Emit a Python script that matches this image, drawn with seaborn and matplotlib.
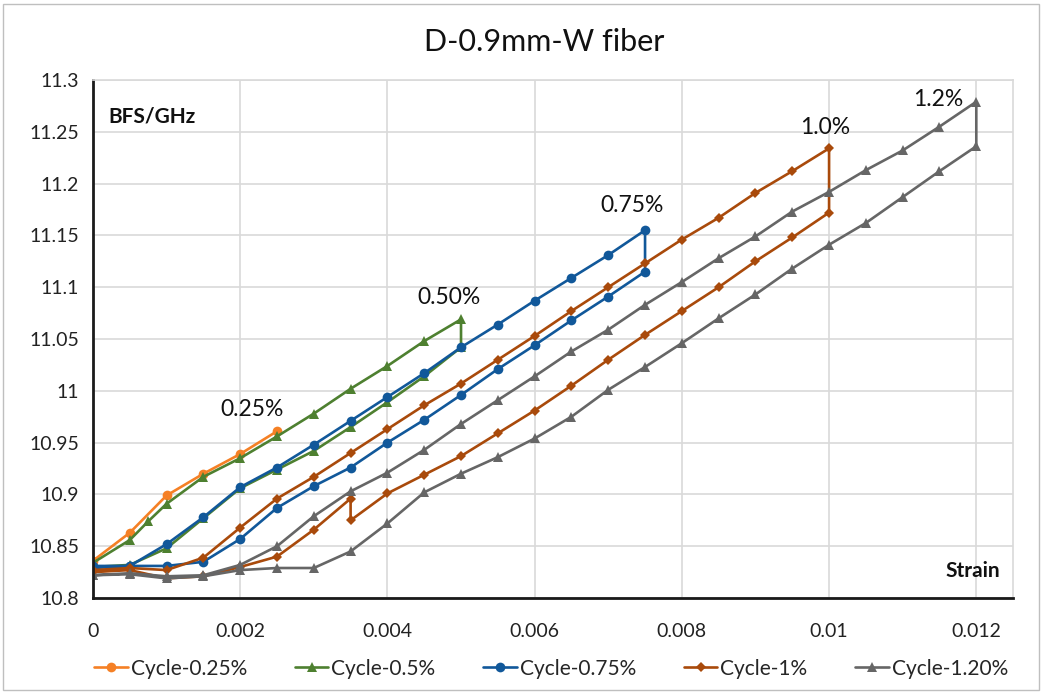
# BFS vs strain for the D-0.9mm-W fiber, loading/unloading cycles

import matplotlib.pyplot as plt
import numpy as np
import pandas as pd
import seaborn as sns
from matplotlib.patches import Rectangle

# strain points and BFS (GHz), each cycle drawn as one path
strain_025 = [0, 0.0005, 0.001, 0.0015, 0.002, 0.0025]
bfs_025 = [10.836, 10.863, 10.899, 10.920, 10.939, 10.961]

strain_05 = [0, 0.0005, 0.00075, 0.001, 0.0015, 0.002, 0.0025, 0.003, 0.0035, 0.004, 0.0045, 0.005,
             0.005, 0.0045, 0.004, 0.0035, 0.003, 0.0025, 0.002, 0.0015, 0.001, 0.0005, 0]
bfs_05 = [10.834, 10.856, 10.874, 10.891, 10.917, 10.935, 10.956, 10.978, 11.002, 11.024, 11.048, 11.069,
          11.042, 11.014, 10.989, 10.965, 10.942, 10.924, 10.906, 10.877, 10.848, 10.832, 10.830]

strain_075 = [0, 0.0005, 0.001, 0.0015, 0.002, 0.0025, 0.003, 0.0035, 0.004, 0.0045, 0.005, 0.0055,
              0.006, 0.0065, 0.007, 0.0075,
              0.0075, 0.007, 0.0065, 0.006, 0.0055, 0.005, 0.0045, 0.004, 0.0035, 0.003, 0.0025,
              0.002, 0.0015, 0.001, 0.0005, 0]
bfs_075 = [10.831, 10.831, 10.852, 10.878, 10.907, 10.926, 10.948, 10.971, 10.994, 11.017, 11.042, 11.064,
           11.087, 11.109, 11.131, 11.155,
           11.115, 11.091, 11.068, 11.044, 11.021, 10.996, 10.972, 10.950, 10.926, 10.908, 10.887,
           10.857, 10.835, 10.831, 10.831, 10.829]

strain_1 = [0, 0.0005, 0.001, 0.0015, 0.002, 0.0025, 0.003, 0.0035, 0.004, 0.0045, 0.005, 0.0055,
            0.006, 0.0065, 0.007, 0.0075, 0.008, 0.0085, 0.009, 0.0095, 0.01,
            0.01, 0.0095, 0.009, 0.0085, 0.008, 0.0075, 0.007, 0.0065, 0.006, 0.0055, 0.005, 0.0045,
            0.004, 0.0035, 0.0035, 0.003, 0.0025, 0.002, 0.0015, 0.001, 0.0005, 0]
bfs_1 = [10.827, 10.829, 10.827, 10.839, 10.868, 10.896, 10.917, 10.940, 10.963, 10.986, 11.007, 11.030,
         11.053, 11.077, 11.100, 11.123, 11.146, 11.167, 11.191, 11.212, 11.234,
         11.172, 11.148, 11.125, 11.100, 11.077, 11.054, 11.030, 11.005, 10.981, 10.959, 10.937, 10.919,
         10.901, 10.875, 10.896, 10.866, 10.840, 10.830, 10.821, 10.819, 10.827, 10.825]

strain_12 = [0, 0.0005, 0.001, 0.0015, 0.002, 0.0025, 0.003, 0.0035, 0.004, 0.0045, 0.005, 0.0055,
             0.006, 0.0065, 0.007, 0.0075, 0.008, 0.0085, 0.009, 0.0095, 0.01, 0.0105, 0.011, 0.0115, 0.012,
             0.012, 0.0115, 0.011, 0.0105, 0.01, 0.0095, 0.009, 0.0085, 0.008, 0.0075, 0.007, 0.0065,
             0.006, 0.0055, 0.005, 0.0045, 0.004, 0.0035, 0.003, 0.0025, 0.002, 0.0015, 0.001, 0.0005, 0]
bfs_12 = [10.822, 10.824, 10.821, 10.822, 10.832, 10.850, 10.879, 10.903, 10.921, 10.943, 10.968, 10.991,
          11.014, 11.038, 11.059, 11.083, 11.105, 11.128, 11.149, 11.173, 11.192, 11.213, 11.232, 11.255, 11.279,
          11.236, 11.212, 11.187, 11.162, 11.141, 11.118, 11.093, 11.070, 11.046, 11.023, 11.001, 10.975,
          10.954, 10.936, 10.920, 10.902, 10.872, 10.845, 10.829, 10.829, 10.827, 10.821, 10.819, 10.823, 10.822]

cycles = ['Cycle-0.25%', 'Cycle-0.5%', 'Cycle-0.75%', 'Cycle-1%', 'Cycle-1.20%']
strains = [strain_025, strain_05, strain_075, strain_1, strain_12]
bfs_all = [bfs_025, bfs_05, bfs_075, bfs_1, bfs_12]
colors = ['#F58025', '#4E8030', '#11589A', '#A94A0B', '#666666']
markers = ['o', '^', 'o', 'D', '^']
msizes = [7, 7, 7, 5, 7]

# peak labels
peak_labels = ['0.25%', '0.50%', '0.75%', '1.0%', '1.2%']
peak_x = [0.00216, 0.00484, 0.00733, 0.00995, 0.01148]
peak_y = [10.9815, 11.0896, 11.1784, 11.2546, 11.2807]

sns.set_style('white')
plt.rcParams['font.family'] = ['Lato', 'DejaVu Sans']

fig = plt.figure(figsize=(10.54, 6.93), dpi=100)
ax = fig.add_axes([0.0882, 0.137, 0.873, 0.7476])

for name, sx, sy, c, m, ms in zip(cycles, strains, bfs_all, colors, markers, msizes):
    df = pd.DataFrame({'strain': sx, 'bfs': sy, 'order': np.arange(len(sx))})
    sns.lineplot(data=df, x='strain', y='bfs', ax=ax, sort=False, estimator=None,
                 color=c, marker=m, markersize=ms, markeredgewidth=0, linewidth=1.9, label=name)

ax.set_xlim(0, 0.0125)
ax.set_ylim(10.8, 11.3)
ax.set_xticks(np.arange(0, 0.0121, 0.002))
ax.set_xticklabels(['0', '0.002', '0.004', '0.006', '0.008', '0.01', '0.012'])
ax.set_yticks(np.arange(10.8, 11.301, 0.05))
ax.set_yticklabels(['10.8', '10.85', '10.9', '10.95', '11', '11.05', '11.1', '11.15', '11.2', '11.25', '11.3'])
ax.set_xlabel('')
ax.set_ylabel('')
ax.tick_params(axis='both', labelsize=14, colors='#222222')
ax.tick_params(axis='x', direction='in', length=6, width=1.5, pad=18)
ax.tick_params(axis='y', direction='out', length=6, width=1.5, pad=4)
ax.grid(color='#D9D9D9', linewidth=1.2)
ax.set_axisbelow(True)
for s in ['left', 'bottom']:
    ax.spines[s].set_color('#1a1a1a')
    ax.spines[s].set_linewidth(2)
for s in ['top', 'right']:
    ax.spines[s].set_color('#D9D9D9')
    ax.spines[s].set_linewidth(1.2)

for t, x, y in zip(peak_labels, peak_x, peak_y):
    ax.text(x, y, t, fontsize=16.5, ha='center', va='center', color='#111111')

ax.text(0.017, 0.93, 'BFS/GHz', transform=ax.transAxes, fontsize=15, fontweight='bold',
        va='center', color='#111111')
ax.text(0.986, 0.053, 'Strain', transform=ax.transAxes, fontsize=15, fontweight='bold',
        ha='right', va='center', color='#111111')

fig.suptitle('D-0.9mm-W fiber', fontsize=22, y=0.94, x=0.516, va='center', color='#111111')

leg = ax.legend(loc='center', bbox_to_anchor=(0.498, -0.136), ncol=5, frameon=False,
                fontsize=15, handlelength=1.6, columnspacing=2.3, handletextpad=0.15)

fig.add_artist(Rectangle((0.003, 0.004), 0.983, 0.99, transform=fig.transFigure,
                         fill=False, edgecolor='#BFBFBF', linewidth=1))

fig.savefig('out.png', dpi=100)
